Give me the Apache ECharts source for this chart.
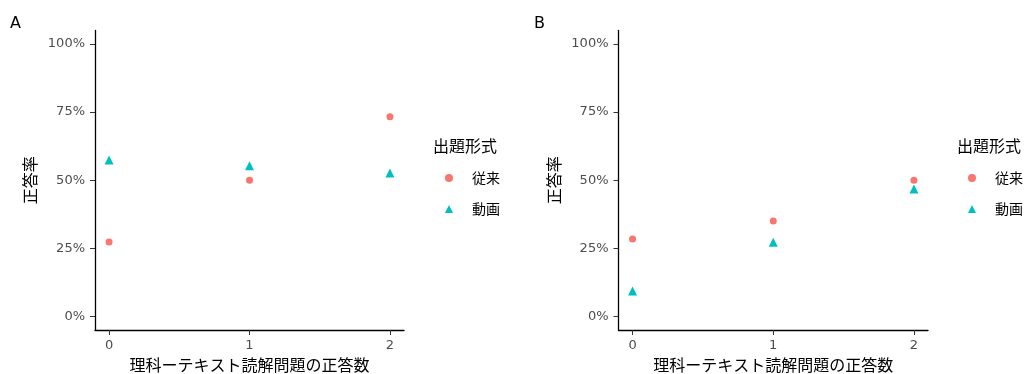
<!DOCTYPE html>
<html>
<head>
<meta charset="utf-8">
<script src="https://cdn.jsdelivr.net/npm/echarts@6/dist/echarts.min.js"></script>
<style>html,body{margin:0;padding:0;background:#fff}#c{width:1029px;height:374px}</style>
</head>
<body>
<div id="c"></div>
<script>
// Data (percent)
const categories = [0, 1, 2];
const seriesNames = ['従来', '動画'];
const panelA_conventional = [27.3, 50.0, 73.3];
const panelA_video = [57.4, 55.3, 52.6];
const panelB_conventional = [28.4, 35.0, 50.0];
const panelB_video = [9.3, 27.2, 46.8];
const yTicks = [0, 25, 50, 75, 100];
const xTicks = [0, 1, 2];

const RED = '#F8766D', TEAL = '#00BFC4';
const FONT = '"Noto Sans CJK JP", "Noto Sans", sans-serif';
const NUMFONT = '"DejaVu Sans", sans-serif';

function pairs(vals) { return categories.map((c, i) => [c, vals[i]]); }

function xAxis(gi) {
  return {
    type: 'value', gridIndex: gi, min: -0.1, max: 2.1,
    name: '理科ーテキスト読解問題の正答数', nameLocation: 'middle', nameGap: 27,
    nameTextStyle: { fontSize: 16, color: '#000', fontFamily: FONT },
    splitLine: { show: false },
    axisLine: { show: true, onZero: false, lineStyle: { color: '#000', width: 1.3 } },
    axisTick: { show: true, length: 5, customValues: xTicks, lineStyle: { color: '#333' } },
    axisLabel: { customValues: xTicks, color: '#4D4D4D', fontSize: 13, margin: 9, fontFamily: NUMFONT }
  };
}
function yAxis(gi) {
  return {
    type: 'value', gridIndex: gi, min: -5, max: 105,
    name: '正答率', nameLocation: 'middle', nameGap: 57, nameRotate: 90,
    nameTextStyle: { fontSize: 16, color: '#000', fontFamily: FONT },
    splitLine: { show: false },
    axisLine: { show: true, onZero: false, lineStyle: { color: '#000', width: 1.3 } },
    axisTick: { show: true, length: 5, customValues: yTicks, lineStyle: { color: '#333' } },
    axisLabel: { customValues: yTicks, formatter: v => v + '%', color: '#4D4D4D', fontSize: 13, margin: 10, fontFamily: NUMFONT }
  };
}
function legend(left) {
  return {
    orient: 'vertical', left: left, top: 171, padding: 0,
    itemWidth: 8, itemHeight: 8, itemGap: 17, selectedMode: false,
    textStyle: { fontSize: 14, lineHeight: 14, color: '#000', fontFamily: FONT, padding: [0, 0, 0, 14] },
    data: [{ name: '従来', icon: 'circle', itemStyle: { color: RED } },
           { name: '動画', icon: 'triangle', itemStyle: { color: TEAL } }]
  };
}
function scatter(name, vals, gi, color, symbol, size) {
  return { type: 'scatter', name: name, xAxisIndex: gi, yAxisIndex: gi, data: pairs(vals),
    symbol: symbol, symbolSize: size, itemStyle: { color: color, opacity: 1 }, emphasis: { disabled: true } };
}

const chart = echarts.init(document.getElementById('c'), null, { renderer: 'canvas' });
chart.setOption({
  animation: false,
  textStyle: { fontFamily: FONT },
  title: [
    { text: 'A', left: 10, top: 16, padding: 0, textStyle: { fontSize: 16, fontWeight: 'normal', color: '#000', fontFamily: NUMFONT } },
    { text: 'B', left: 534, top: 16, padding: 0, textStyle: { fontSize: 16, fontWeight: 'normal', color: '#000', fontFamily: NUMFONT } },
    { text: '出題形式', left: 433, top: 138, padding: 0, textStyle: { fontSize: 16, fontWeight: 'normal', color: '#000', fontFamily: FONT } },
    { text: '出題形式', left: 957, top: 138, padding: 0, textStyle: { fontSize: 16, fontWeight: 'normal', color: '#000', fontFamily: FONT } }
  ],
  grid: [
    { left: 95, top: 30.4, width: 309, height: 299.6, outerBoundsMode: 'none', containLabel: false },
    { left: 618.5, top: 30.4, width: 309.5, height: 299.6, outerBoundsMode: 'none', containLabel: false }
  ],
  legend: [legend(445), legend(968)],
  xAxis: [xAxis(0), xAxis(1)],
  yAxis: [yAxis(0), yAxis(1)],
  series: [
    scatter(seriesNames[0], panelA_conventional, 0, RED, 'circle', 7),
    scatter(seriesNames[1], panelA_video, 0, TEAL, 'triangle', 9),
    scatter(seriesNames[0], panelB_conventional, 1, RED, 'circle', 7),
    scatter(seriesNames[1], panelB_video, 1, TEAL, 'triangle', 9)
  ]
});
</script>
</body>
</html>
